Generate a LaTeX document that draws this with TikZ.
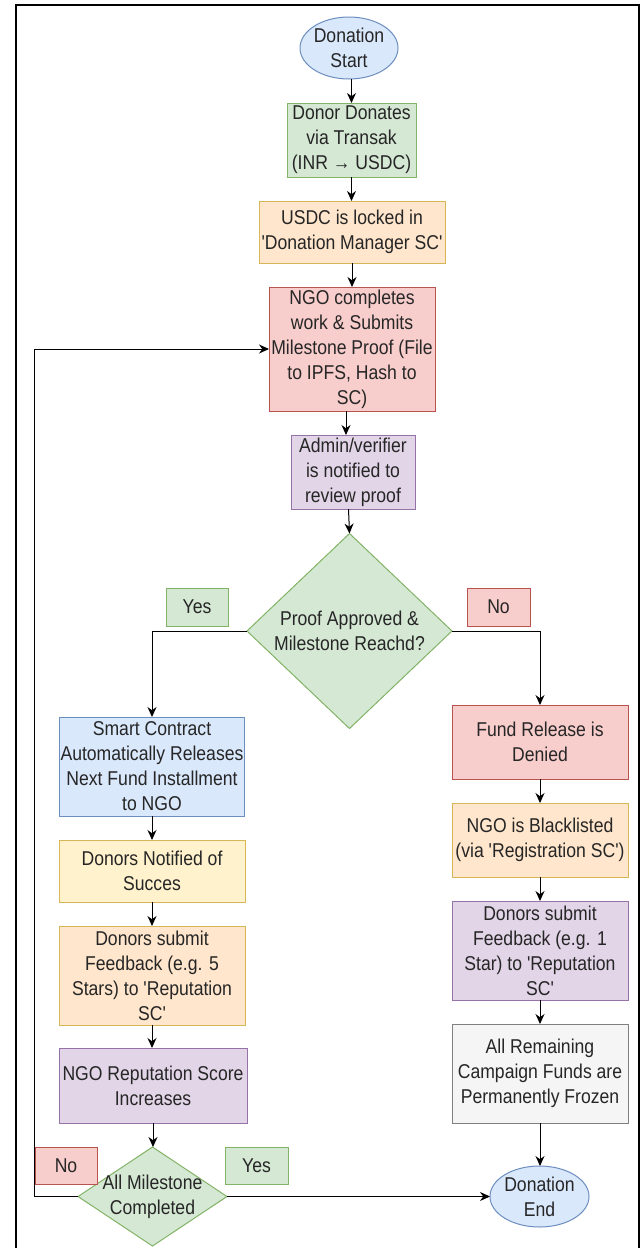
\documentclass[tikz,border=0pt]{standalone}
\usepackage{fontspec}
\setmainfont[FakeStretch=0.88,Ligatures=TeXOff]{Liberation Sans}
\usetikzlibrary{shapes.geometric,arrows.meta}
\definecolor{bluef}{HTML}{DAE8FC}\definecolor{bluel}{HTML}{6C8EBF}
\definecolor{greenf}{HTML}{D5E8D4}\definecolor{greenl}{HTML}{82B366}
\definecolor{orangef}{HTML}{FFE6CC}\definecolor{orangel}{HTML}{D6B656}
\definecolor{redf}{HTML}{F8CECC}\definecolor{redl}{HTML}{B85450}
\definecolor{purplef}{HTML}{E1D5E7}\definecolor{purplel}{HTML}{9673A6}
\definecolor{yellowf}{HTML}{FFF2CC}\definecolor{grayf}{HTML}{F5F5F5}\definecolor{grayl}{HTML}{808080}
\definecolor{inkc}{HTML}{262626}
\tikzset{
  base/.style={align=center,font=\fontsize{20}{25}\selectfont,text=inkc,line width=1pt,inner sep=0pt,outer sep=0pt},
  rbox/.style={base,rectangle},
  oval/.style={base,ellipse,inner sep=-12pt,fill=bluef,draw=bluel},
  decide/.style={base,diamond,inner sep=-30pt,fill=greenf,draw=greenl},
  sz/.style 2 args={minimum width=#1pt,minimum height=#2pt},
  cblue/.style={fill=bluef,draw=bluel},
  cgreen/.style={fill=greenf,draw=greenl},
  corange/.style={fill=orangef,draw=orangel},
  cred/.style={fill=redf,draw=redl},
  cpurple/.style={fill=purplef,draw=purplel},
  cyellow/.style={fill=yellowf,draw=orangel},
  cgray/.style={fill=grayf,draw=grayl},
  arr/.style={draw=black,line width=1pt,-{Stealth[length=10pt,width=9pt]}},
  frameline/.style={draw=black,line width=2pt}
}
\begin{document}
\begin{tikzpicture}[x=1pt,y=-1pt]
\useasboundingbox[fill=white] (0,0) rectangle (642,1248);
\coordinate (fa) at (16,1248);\coordinate (fb) at (16,5);\coordinate (fc) at (639,5);\coordinate (fd) at (639,1248);
\draw[frameline] (fa) -- (fb) -- (fc) -- (fd);
\node[oval,sz={98}{62}] (start) at (349,48) {Donation\\Start};
\node[rbox,cgreen,sz={129}{74}] (donor) at (351.5,140) {Donor Donates\\via Transak\\(INR → USDC)};
\node[rbox,corange,sz={186}{62}] (usdc) at (352,232) {USDC is locked in\\'Donation Manager SC'};
\node[rbox,cred,sz={166}{124}] (ngo) at (352,349) {NGO completes\\work \& Submits\\Milestone Proof (File\\to IPFS, Hash to\\SC)};
\node[rbox,cpurple,sz={124}{74}] (admin) at (353,472) {Admin/verifier\\is notified to\\review proof};
\node[decide,sz={205}{195}] (d1) at (349.5,631) {Proof Approved \&\\Milestone Reachd?};
\node[rbox,cgreen,sz={62}{38}] (yes1) at (197,607) {Yes};
\node[rbox,cred,sz={63}{38}] (no1) at (498.5,607) {No};
\node[rbox,cblue,sz={185.5}{99}] (smart) at (152,766.5) {Smart Contract\\Automatically Releases\\Next Fund Installment\\to NGO};
\node[rbox,cyellow,sz={186}{62}] (notif) at (152,871) {Donors Notified of\\Succes};
\node[rbox,corange,sz={186}{99}] (fb5) at (152,975.5) {Donors submit\\Feedback (e.g. 5\\Stars) to 'Reputation\\SC'};
\node[rbox,cpurple,sz={188}{75}] (rep) at (153,1085.5) {NGO Reputation Score\\Increases};
\node[decide,sz={149}{99}] (d2) at (152.5,1196.5) {All Milestone\\Completed};
\node[rbox,cred,sz={62}{37}] (no2) at (66,1165.5) {No};
\node[rbox,cgreen,sz={63}{37}] (yes2) at (256.5,1165.5) {Yes};
\node[rbox,cred,sz={176}{74}] (fund) at (540,742) {Fund Release is\\Denied};
\node[rbox,corange,sz={176}{74}] (black) at (540,840) {NGO is Blacklisted\\(via 'Registration SC')};
\node[rbox,cpurple,sz={176}{99}] (fb1) at (540,950.5) {Donors submit\\Feedback (e.g. 1\\Star) to 'Reputation\\SC'};
\node[rbox,cgray,sz={176}{99}] (frozen) at (540,1073.5) {All Remaining\\Campaign Funds are\\Permanently Frozen};
\node[oval,sz={99}{61}] (end) at (539.5,1196.5) {Donation\\End};
\coordinate (loopc) at (34.5,349);
\draw[arr] (start.south -| donor.north) -- (donor.north);
\draw[arr] (donor.south) -- (usdc.north -| donor.south);
\draw[arr] (usdc.south) -- (ngo.north);
\draw[arr] ([xshift=-6pt]ngo.south) -- ([xshift=-7pt]admin.north);
\draw[arr] ([xshift=-4.5pt]admin.south) -- (d1.north);
\draw[arr] (d1.west) -| (smart.north);
\draw[arr] (d1.east) -| (fund.north);
\draw[arr] (smart.south) -- (notif.north);
\draw[arr] (notif.south) -- (fb5.north);
\draw[arr] (fb5.south) -- (rep.north -| fb5.south);
\draw[arr] (rep.south) -- (d2.north -| rep.south);
\draw[arr] (d2.east) -- (end.west);
\draw[arr] (fund.south) -- (black.north);
\draw[arr] (black.south) -- (fb1.north);
\draw[arr] (fb1.south) -- (frozen.north);
\draw[arr] (frozen.south) -- (end.north -| frozen.south);
\draw[arr] (d2.west) -| (loopc) -- (ngo.west);
\end{tikzpicture}
\end{document}
